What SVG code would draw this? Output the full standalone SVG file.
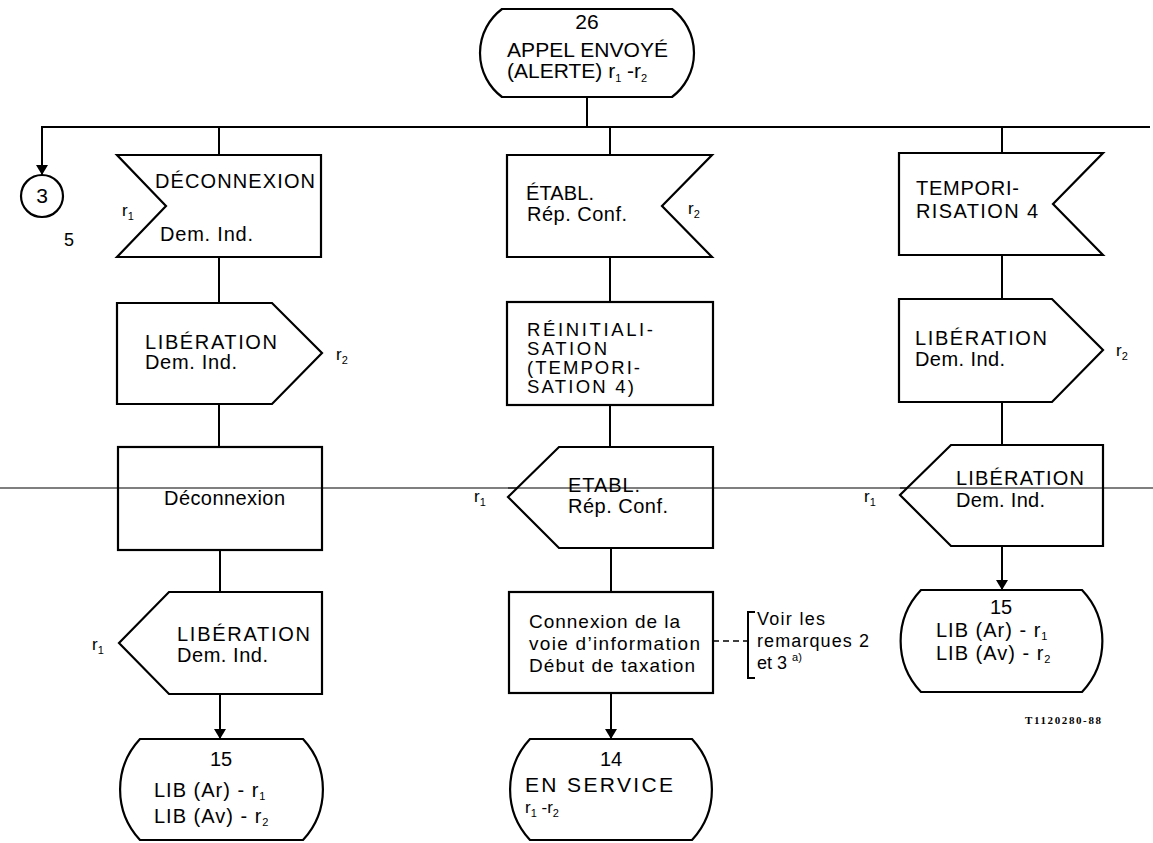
<svg xmlns="http://www.w3.org/2000/svg" width="1153" height="843" viewBox="0 0 1153 843">
  <defs>
    <marker id="arrow" viewBox="0 0 10 12" refX="10" refY="6" markerWidth="10" markerHeight="12" markerUnits="userSpaceOnUse" orient="auto">
      <path d="M0,0 L10,6 L0,12 Z" fill="#000"/>
    </marker>
    <style>
      .shape { fill: #fff; stroke: #000; stroke-width: 2.2; stroke-linejoin: miter; }
      .wire { fill: none; stroke: #000; stroke-width: 2; }
      .thin { fill: none; stroke: #000; stroke-width: 1.2; }
      .dash { fill: none; stroke: #000; stroke-width: 1.6; stroke-dasharray: 6 4; }
      text { font-family: "Liberation Sans", Arial, sans-serif; fill: #000; }
      .t { font-size: 20px; }
      .big { font-size: 21px; }
      .lc { font-size: 19px; }
      .tight { font-size: 18.5px; }
      .note { font-size: 18px; }
      .r { font-size: 17px; }
      .sub { font-size: 11px; }
      .ref { font-family: "Liberation Serif", "Times New Roman", serif; font-size: 11px; font-weight: bold; }
      .mid { text-anchor: middle; }
    </style>
  </defs>

  <!-- connectors -->
  <g id="connectors">
    <line class="thin" x1="0" y1="488" x2="1153" y2="488"/>
    <polyline class="wire" points="587,97 587,127"/>
    <polyline class="wire" points="1150,127 42,127 42,175" marker-end="url(#arrow)"/>
    <!-- left column -->
    <line class="wire" x1="219" y1="127" x2="219" y2="155"/>
    <line class="wire" x1="219" y1="257" x2="219" y2="303"/>
    <line class="wire" x1="219" y1="404" x2="219" y2="447"/>
    <line class="wire" x1="220" y1="550" x2="220" y2="592"/>
    <line class="wire" x1="220" y1="694" x2="220" y2="739" marker-end="url(#arrow)"/>
    <!-- middle column -->
    <line class="wire" x1="610" y1="127" x2="610" y2="155"/>
    <line class="wire" x1="610" y1="257" x2="610" y2="302"/>
    <line class="wire" x1="610" y1="405" x2="610" y2="447"/>
    <line class="wire" x1="611" y1="548" x2="611" y2="592"/>
    <line class="wire" x1="611" y1="693" x2="611" y2="739" marker-end="url(#arrow)"/>
    <!-- right column -->
    <line class="wire" x1="1002" y1="127" x2="1002" y2="153"/>
    <line class="wire" x1="1002" y1="255" x2="1002" y2="299"/>
    <line class="wire" x1="1002" y1="402" x2="1002" y2="445"/>
    <line class="wire" x1="1002" y1="546" x2="1002" y2="590" marker-end="url(#arrow)"/>
    <!-- comment link -->
    <line class="dash" x1="713" y1="641" x2="748" y2="641"/>
  </g>

  <!-- state 26 -->
  <g id="state26">
    <path class="shape" d="M502,9 L672,9 A55,55 0 0 1 672,97 L502,97 A55,55 0 0 1 502,9 Z"/>
    <text class="big mid" x="587" y="29">26</text>
    <text class="big" x="507" y="57" textLength="161" lengthAdjust="spacing">APPEL ENVOYÉ</text>
    <text class="big" x="507" y="78">(ALERTE) r<tspan class="sub" dy="4">1</tspan><tspan dy="-4"> -r</tspan><tspan class="sub" dy="4">2</tspan></text>
  </g>

  <!-- connector 3 -->
  <g id="connector3">
    <circle class="shape" cx="42" cy="196" r="21"/>
    <text class="big mid" x="42" y="203">3</text>
    <text class="note" x="64" y="246">5</text>
  </g>

  <!-- left column -->
  <g id="in-deconnexion">
    <polygon class="shape" points="117,155 321,155 321,257 117,257 166,206"/>
    <text class="t" x="155" y="188" textLength="160" lengthAdjust="spacing">DÉCONNEXION</text>
    <text class="t" x="160" y="241" textLength="93" lengthAdjust="spacing">Dem. Ind.</text>
    <text class="r" x="122" y="216">r<tspan class="sub" dy="4">1</tspan></text>
  </g>

  <g id="out-liberation-r2-left">
    <polygon class="shape" points="117,303 272,303 322,353 272,404 117,404"/>
    <text class="t" x="145" y="349" textLength="132" lengthAdjust="spacing">LIBÉRATION</text>
    <text class="t" x="145" y="369" textLength="92" lengthAdjust="spacing">Dem. Ind.</text>
    <text class="r" x="336" y="360">r<tspan class="sub" dy="4">2</tspan></text>
  </g>

  <g id="task-deconnexion">
    <rect class="shape" x="118" y="447" width="204" height="103"/>
    <line class="thin" x1="118" y1="488" x2="322" y2="488"/>
    <text class="t" x="164" y="505" textLength="121" lengthAdjust="spacing">Déconnexion</text>
  </g>

  <g id="out-liberation-r1-left">
    <polygon class="shape" points="169,592 322,592 322,694 169,694 119,643"/>
    <text class="t" x="177" y="641" textLength="133" lengthAdjust="spacing">LIBÉRATION</text>
    <text class="t" x="177" y="662" textLength="91" lengthAdjust="spacing">Dem. Ind.</text>
    <text class="r" x="92" y="650">r<tspan class="sub" dy="4">1</tspan></text>
  </g>

  <g id="state15-left">
    <path class="shape" d="M140,739 L303,739 A74,74 0 0 1 303,840 L140,840 A74,74 0 0 1 140,739 Z"/>
    <text class="t mid" x="221" y="766">15</text>
    <text class="t" x="154" y="797" letter-spacing="1">LIB (Ar) - r<tspan class="sub" dy="3">1</tspan></text>
    <text class="t" x="154" y="823" letter-spacing="1">LIB (Av) - r<tspan class="sub" dy="3">2</tspan></text>
  </g>

  <!-- middle column -->
  <g id="in-etabl">
    <polygon class="shape" points="507,155 712,155 662,206 712,257 507,257"/>
    <text class="t" x="526" y="200" textLength="68" lengthAdjust="spacing">ÉTABL.</text>
    <text class="t" x="527" y="221" textLength="100" lengthAdjust="spacing">Rép. Conf.</text>
    <text class="r" x="688" y="214">r<tspan class="sub" dy="4">2</tspan></text>
  </g>

  <g id="task-reinit">
    <rect class="shape" x="507" y="302" width="206" height="103"/>
    <text class="tight" x="527" y="336" textLength="126" lengthAdjust="spacing">RÉINITIALI-</text>
    <text class="tight" x="527" y="355" textLength="80" lengthAdjust="spacing">SATION</text>
    <text class="tight" x="527" y="374" textLength="113" lengthAdjust="spacing">(TEMPORI-</text>
    <text class="tight" x="527" y="393" textLength="107" lengthAdjust="spacing">SATION 4)</text>
  </g>

  <g id="out-etabl">
    <polygon class="shape" points="559,447 713,447 713,548 559,548 508,497"/>
    <line class="thin" x1="508" y1="488" x2="713" y2="488"/>
    <text class="t" x="568" y="492" textLength="72" lengthAdjust="spacing">ETABL.</text>
    <text class="t" x="568" y="513" textLength="100" lengthAdjust="spacing">Rép. Conf.</text>
    <text class="r" x="474" y="502">r<tspan class="sub" dy="4">1</tspan></text>
  </g>

  <g id="task-connexion">
    <rect class="shape" x="509" y="592" width="204" height="101"/>
    <text class="lc" x="529" y="628" textLength="151" lengthAdjust="spacing">Connexion de la</text>
    <text class="lc" x="529" y="650" textLength="171" lengthAdjust="spacing">voie d’information</text>
    <text class="lc" x="529" y="672" textLength="166" lengthAdjust="spacing">Début de taxation</text>
  </g>

  <g id="comment">
    <path class="wire" d="M755,612 L748,612 L748,678 L755,678"/>
    <text class="note" x="757" y="625" textLength="68" lengthAdjust="spacing">Voir les</text>
    <text class="note" x="757" y="647" textLength="112" lengthAdjust="spacing">remarques 2</text>
    <text class="note" x="757" y="669">et 3 <tspan class="sub" font-size="13" dy="-8">a)</tspan></text>
  </g>

  <g id="state14">
    <path class="shape" d="M530,739 L692,739 A74,74 0 0 1 692,840 L530,840 A74,74 0 0 1 530,739 Z"/>
    <text class="t mid" x="611" y="766">14</text>
    <text class="big" x="525" y="792" textLength="148" lengthAdjust="spacing">EN SERVICE</text>
    <text class="r" x="525" y="813">r<tspan class="sub" dy="4">1</tspan><tspan dy="-4"> -r</tspan><tspan class="sub" dy="4">2</tspan></text>
  </g>

  <!-- right column -->
  <g id="in-temporisation">
    <polygon class="shape" points="899,153 1103,153 1053,204 1103,255 899,255"/>
    <text class="t" x="916" y="195" textLength="103" lengthAdjust="spacing">TEMPORI-</text>
    <text class="t" x="916" y="218" textLength="122" lengthAdjust="spacing">RISATION 4</text>
  </g>

  <g id="out-liberation-r2-right">
    <polygon class="shape" points="899,299 1052,299 1103,350 1052,402 899,402"/>
    <text class="t" x="915" y="345" textLength="132" lengthAdjust="spacing">LIBÉRATION</text>
    <text class="t" x="915" y="366" textLength="90" lengthAdjust="spacing">Dem. Ind.</text>
    <text class="r" x="1116" y="356">r<tspan class="sub" dy="4">2</tspan></text>
  </g>

  <g id="out-liberation-r1-right">
    <polygon class="shape" points="951,445 1103,445 1103,546 951,546 900,495"/>
    <line class="thin" x1="900" y1="488" x2="1103" y2="488"/>
    <text class="t" x="956" y="485" textLength="128" lengthAdjust="spacing">LIBÉRATION</text>
    <text class="t" x="956" y="507" textLength="89" lengthAdjust="spacing">Dem. Ind.</text>
    <text class="r" x="864" y="502">r<tspan class="sub" dy="4">1</tspan></text>
  </g>

  <g id="state15-right">
    <path class="shape" d="M921,590 L1082,590 A74,74 0 0 1 1082,692 L921,692 A74,74 0 0 1 921,590 Z"/>
    <text class="t mid" x="1001" y="614">15</text>
    <text class="t" x="936" y="637" letter-spacing="1">LIB (Ar) - r<tspan class="sub" dy="3">1</tspan></text>
    <text class="t" x="936" y="660" letter-spacing="1">LIB (Av) - r<tspan class="sub" dy="3">2</tspan></text>
  </g>

  <text class="ref" x="1025" y="724" textLength="76" lengthAdjust="spacing">T1120280-88</text>
</svg>
